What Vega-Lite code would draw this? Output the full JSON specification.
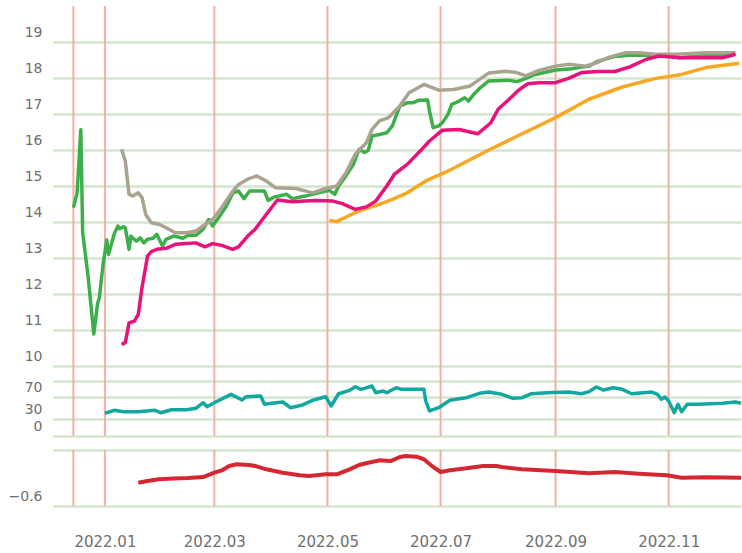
{
  "$schema": "https://vega.github.io/schema/vega-lite/v6.json",
  "padding": {"top": 5, "left": 8, "right": 0, "bottom": 0},
  "background": "white",
  "config": {
    "view": {"stroke": null},
    "axis": {"labelFont": "DejaVu Sans", "labelColor": "#6e6e6e", "domain": false, "ticks": false, "title": null, "gridColor": "#d5e6cf", "gridWidth": 2.5, "labelOverlap": false}
  },
  "datasets": {
    "vl": [{"d": "2021-12-15"}, {"d": "2022-01-01"}, {"d": "2022-03-01"}, {"d": "2022-05-01"}, {"d": "2022-07-01"}, {"d": "2022-09-01"}, {"d": "2022-11-01"}],
    "main": [
      {"d":"2021-12-15","s":"g","v":14.40},{"d":"2021-12-17","s":"g","v":14.81},{"d":"2021-12-19","s":"g","v":16.57},{"d":"2021-12-20","s":"g","v":13.70},{"d":"2021-12-23","s":"g","v":12.45},{"d":"2021-12-26","s":"g","v":10.89},{"d":"2021-12-28","s":"g","v":11.72},{"d":"2021-12-29","s":"g","v":11.90},{"d":"2021-12-31","s":"g","v":12.83},{"d":"2022-01-02","s":"g","v":13.50},{"d":"2022-01-03","s":"g","v":13.10},{"d":"2022-01-06","s":"g","v":13.67},{"d":"2022-01-08","s":"g","v":13.89},{"d":"2022-01-09","s":"g","v":13.81},{"d":"2022-01-11","s":"g","v":13.87},{"d":"2022-01-12","s":"g","v":13.84},{"d":"2022-01-14","s":"g","v":13.24},{"d":"2022-01-15","s":"g","v":13.61},{"d":"2022-01-16","s":"g","v":13.55},{"d":"2022-01-18","s":"g","v":13.47},{"d":"2022-01-20","s":"g","v":13.56},{"d":"2022-01-22","s":"g","v":13.42},{"d":"2022-01-24","s":"g","v":13.52},{"d":"2022-01-27","s":"g","v":13.55},{"d":"2022-01-29","s":"g","v":13.66},{"d":"2022-02-01","s":"g","v":13.33},{"d":"2022-02-03","s":"g","v":13.52},{"d":"2022-02-07","s":"g","v":13.61},{"d":"2022-02-12","s":"g","v":13.55},{"d":"2022-02-15","s":"g","v":13.63},{"d":"2022-02-19","s":"g","v":13.63},{"d":"2022-02-23","s":"g","v":13.80},{"d":"2022-02-26","s":"g","v":14.07},{"d":"2022-02-28","s":"g","v":13.89},{"d":"2022-03-04","s":"g","v":14.17},{"d":"2022-03-07","s":"g","v":14.40},{"d":"2022-03-11","s":"g","v":14.81},{"d":"2022-03-14","s":"g","v":14.86},{"d":"2022-03-17","s":"g","v":14.65},{"d":"2022-03-20","s":"g","v":14.86},{"d":"2022-03-28","s":"g","v":14.86},{"d":"2022-03-30","s":"g","v":14.60},{"d":"2022-04-02","s":"g","v":14.69},{"d":"2022-04-09","s":"g","v":14.77},{"d":"2022-04-12","s":"g","v":14.65},{"d":"2022-04-19","s":"g","v":14.72},{"d":"2022-04-26","s":"g","v":14.81},{"d":"2022-05-02","s":"g","v":14.88},{"d":"2022-05-05","s":"g","v":14.77},{"d":"2022-05-07","s":"g","v":15.00},{"d":"2022-05-11","s":"g","v":15.28},{"d":"2022-05-15","s":"g","v":15.60},{"d":"2022-05-18","s":"g","v":16.02},{"d":"2022-05-21","s":"g","v":15.93},{"d":"2022-05-23","s":"g","v":15.99},{"d":"2022-05-25","s":"g","v":16.39},{"d":"2022-05-29","s":"g","v":16.43},{"d":"2022-06-02","s":"g","v":16.48},{"d":"2022-06-05","s":"g","v":16.67},{"d":"2022-06-09","s":"g","v":17.22},{"d":"2022-06-13","s":"g","v":17.31},{"d":"2022-06-16","s":"g","v":17.31},{"d":"2022-06-19","s":"g","v":17.38},{"d":"2022-06-24","s":"g","v":17.39},{"d":"2022-06-25","s":"g","v":17.08},{"d":"2022-06-27","s":"g","v":16.62},{"d":"2022-06-30","s":"g","v":16.67},{"d":"2022-07-02","s":"g","v":16.76},{"d":"2022-07-05","s":"g","v":16.99},{"d":"2022-07-07","s":"g","v":17.27},{"d":"2022-07-11","s":"g","v":17.36},{"d":"2022-07-14","s":"g","v":17.45},{"d":"2022-07-16","s":"g","v":17.36},{"d":"2022-07-19","s":"g","v":17.55},{"d":"2022-07-22","s":"g","v":17.71},{"d":"2022-07-27","s":"g","v":17.92},{"d":"2022-08-07","s":"g","v":17.94},{"d":"2022-08-11","s":"g","v":17.90},{"d":"2022-08-14","s":"g","v":17.95},{"d":"2022-08-20","s":"g","v":18.08},{"d":"2022-09-01","s":"g","v":18.22},{"d":"2022-09-10","s":"g","v":18.26},{"d":"2022-09-19","s":"g","v":18.33},{"d":"2022-09-24","s":"g","v":18.47},{"d":"2022-10-03","s":"g","v":18.60},{"d":"2022-10-11","s":"g","v":18.63},{"d":"2022-10-20","s":"g","v":18.63},{"d":"2022-10-31","s":"g","v":18.63},{"d":"2022-11-07","s":"g","v":18.56},{"d":"2022-11-16","s":"g","v":18.61},{"d":"2022-11-26","s":"g","v":18.63},{"d":"2022-12-07","s":"g","v":18.66},
      {"d":"2022-01-10","s":"a","v":16.02},{"d":"2022-01-12","s":"a","v":15.69},{"d":"2022-01-14","s":"a","v":14.77},{"d":"2022-01-16","s":"a","v":14.72},{"d":"2022-01-19","s":"a","v":14.81},{"d":"2022-01-21","s":"a","v":14.68},{"d":"2022-01-23","s":"a","v":14.21},{"d":"2022-01-26","s":"a","v":13.98},{"d":"2022-01-30","s":"a","v":13.94},{"d":"2022-02-03","s":"a","v":13.84},{"d":"2022-02-08","s":"a","v":13.70},{"d":"2022-02-14","s":"a","v":13.70},{"d":"2022-02-19","s":"a","v":13.75},{"d":"2022-02-23","s":"a","v":13.89},{"d":"2022-02-28","s":"a","v":14.07},{"d":"2022-03-05","s":"a","v":14.40},{"d":"2022-03-11","s":"a","v":14.86},{"d":"2022-03-14","s":"a","v":15.04},{"d":"2022-03-19","s":"a","v":15.19},{"d":"2022-03-24","s":"a","v":15.28},{"d":"2022-03-29","s":"a","v":15.14},{"d":"2022-04-03","s":"a","v":14.95},{"d":"2022-04-14","s":"a","v":14.93},{"d":"2022-04-23","s":"a","v":14.81},{"d":"2022-04-30","s":"a","v":14.93},{"d":"2022-05-06","s":"a","v":15.00},{"d":"2022-05-11","s":"a","v":15.37},{"d":"2022-05-16","s":"a","v":15.88},{"d":"2022-05-22","s":"a","v":16.20},{"d":"2022-05-25","s":"a","v":16.57},{"d":"2022-05-29","s":"a","v":16.81},{"d":"2022-06-03","s":"a","v":16.90},{"d":"2022-06-09","s":"a","v":17.22},{"d":"2022-06-14","s":"a","v":17.59},{"d":"2022-06-22","s":"a","v":17.82},{"d":"2022-06-30","s":"a","v":17.66},{"d":"2022-07-08","s":"a","v":17.68},{"d":"2022-07-17","s":"a","v":17.78},{"d":"2022-07-22","s":"a","v":17.96},{"d":"2022-07-27","s":"a","v":18.14},{"d":"2022-08-05","s":"a","v":18.19},{"d":"2022-08-11","s":"a","v":18.15},{"d":"2022-08-16","s":"a","v":18.06},{"d":"2022-08-23","s":"a","v":18.21},{"d":"2022-09-01","s":"a","v":18.33},{"d":"2022-09-08","s":"a","v":18.38},{"d":"2022-09-17","s":"a","v":18.33},{"d":"2022-09-23","s":"a","v":18.42},{"d":"2022-09-30","s":"a","v":18.58},{"d":"2022-10-09","s":"a","v":18.70},{"d":"2022-10-16","s":"a","v":18.70},{"d":"2022-10-25","s":"a","v":18.66},{"d":"2022-11-05","s":"a","v":18.66},{"d":"2022-11-21","s":"a","v":18.70},{"d":"2022-12-07","s":"a","v":18.70},
      {"d":"2022-01-10","s":"m","v":10.60},{"d":"2022-01-12","s":"m","v":10.65},{"d":"2022-01-14","s":"m","v":11.20},{"d":"2022-01-17","s":"m","v":11.25},{"d":"2022-01-19","s":"m","v":11.44},{"d":"2022-01-21","s":"m","v":12.18},{"d":"2022-01-24","s":"m","v":13.06},{"d":"2022-01-26","s":"m","v":13.18},{"d":"2022-01-29","s":"m","v":13.24},{"d":"2022-02-03","s":"m","v":13.27},{"d":"2022-02-08","s":"m","v":13.38},{"d":"2022-02-14","s":"m","v":13.40},{"d":"2022-02-19","s":"m","v":13.42},{"d":"2022-02-24","s":"m","v":13.31},{"d":"2022-02-28","s":"m","v":13.40},{"d":"2022-03-05","s":"m","v":13.35},{"d":"2022-03-11","s":"m","v":13.24},{"d":"2022-03-14","s":"m","v":13.31},{"d":"2022-03-19","s":"m","v":13.61},{"d":"2022-03-23","s":"m","v":13.80},{"d":"2022-03-29","s":"m","v":14.21},{"d":"2022-04-04","s":"m","v":14.61},{"d":"2022-04-12","s":"m","v":14.56},{"d":"2022-04-19","s":"m","v":14.58},{"d":"2022-04-25","s":"m","v":14.60},{"d":"2022-05-04","s":"m","v":14.58},{"d":"2022-05-09","s":"m","v":14.51},{"d":"2022-05-16","s":"m","v":14.35},{"d":"2022-05-22","s":"m","v":14.42},{"d":"2022-05-27","s":"m","v":14.58},{"d":"2022-06-02","s":"m","v":15.00},{"d":"2022-06-06","s":"m","v":15.32},{"d":"2022-06-13","s":"m","v":15.60},{"d":"2022-06-20","s":"m","v":15.97},{"d":"2022-06-25","s":"m","v":16.25},{"d":"2022-07-02","s":"m","v":16.55},{"d":"2022-07-11","s":"m","v":16.57},{"d":"2022-07-21","s":"m","v":16.45},{"d":"2022-07-28","s":"m","v":16.75},{"d":"2022-08-01","s":"m","v":17.13},{"d":"2022-08-07","s":"m","v":17.41},{"d":"2022-08-12","s":"m","v":17.66},{"d":"2022-08-17","s":"m","v":17.84},{"d":"2022-08-23","s":"m","v":17.87},{"d":"2022-09-01","s":"m","v":17.87},{"d":"2022-09-08","s":"m","v":17.99},{"d":"2022-09-15","s":"m","v":18.15},{"d":"2022-09-24","s":"m","v":18.18},{"d":"2022-10-03","s":"m","v":18.18},{"d":"2022-10-11","s":"m","v":18.31},{"d":"2022-10-20","s":"m","v":18.52},{"d":"2022-10-27","s":"m","v":18.61},{"d":"2022-11-01","s":"m","v":18.59},{"d":"2022-11-07","s":"m","v":18.56},{"d":"2022-11-21","s":"m","v":18.56},{"d":"2022-11-30","s":"m","v":18.56},{"d":"2022-12-07","s":"m","v":18.66},
      {"d":"2022-05-02","s":"o","v":14.05},{"d":"2022-05-06","s":"o","v":14.01},{"d":"2022-05-11","s":"o","v":14.14},{"d":"2022-05-18","s":"o","v":14.31},{"d":"2022-05-29","s":"o","v":14.49},{"d":"2022-06-05","s":"o","v":14.63},{"d":"2022-06-13","s":"o","v":14.81},{"d":"2022-06-23","s":"o","v":15.14},{"d":"2022-07-04","s":"o","v":15.39},{"d":"2022-07-15","s":"o","v":15.68},{"d":"2022-07-27","s":"o","v":16.00},{"d":"2022-08-14","s":"o","v":16.45},{"d":"2022-09-01","s":"o","v":16.90},{"d":"2022-09-19","s":"o","v":17.41},{"d":"2022-10-07","s":"o","v":17.75},{"d":"2022-10-25","s":"o","v":17.99},{"d":"2022-11-08","s":"o","v":18.10},{"d":"2022-11-21","s":"o","v":18.29},{"d":"2022-12-09","s":"o","v":18.41}
    ],
    "rsi": [
      {"d":"2022-01-01","v":41.2},{"d":"2022-01-06","v":46.6},{"d":"2022-01-11","v":44},{"d":"2022-01-19","v":44},{"d":"2022-01-28","v":46.6},{"d":"2022-01-31","v":42.3},{"d":"2022-02-06","v":47.7},{"d":"2022-02-14","v":47.7},{"d":"2022-02-19","v":50.2},{"d":"2022-02-23","v":60.4},{"d":"2022-02-25","v":53.2},{"d":"2022-03-02","v":62.2},{"d":"2022-03-10","v":75.6},{"d":"2022-03-16","v":65.3},{"d":"2022-03-18","v":71.3},{"d":"2022-03-26","v":72.6},{"d":"2022-03-28","v":57.5},{"d":"2022-04-01","v":59.3},{"d":"2022-04-07","v":61.7},{"d":"2022-04-11","v":51.4},{"d":"2022-04-17","v":55.7},{"d":"2022-04-23","v":64.8},{"d":"2022-04-27","v":68.4},{"d":"2022-04-30","v":71.3},{"d":"2022-05-03","v":54.4},{"d":"2022-05-07","v":76.7},{"d":"2022-05-13","v":82.9},{"d":"2022-05-16","v":89.4},{"d":"2022-05-19","v":84.7},{"d":"2022-05-21","v":86.5},{"d":"2022-05-25","v":90.7},{"d":"2022-05-27","v":78.6},{"d":"2022-05-31","v":81.6},{"d":"2022-06-02","v":78.6},{"d":"2022-06-07","v":87.6},{"d":"2022-06-10","v":84.7},{"d":"2022-06-22","v":84.7},{"d":"2022-06-23","v":63.5},{"d":"2022-06-25","v":45.4},{"d":"2022-06-30","v":51.4},{"d":"2022-07-06","v":64.8},{"d":"2022-07-11","v":67.7},{"d":"2022-07-15","v":69.5},{"d":"2022-07-22","v":77.4},{"d":"2022-07-27","v":79.8},{"d":"2022-08-03","v":75.6},{"d":"2022-08-09","v":68.4},{"d":"2022-08-14","v":69.5},{"d":"2022-08-19","v":76.7},{"d":"2022-08-27","v":78.6},{"d":"2022-09-08","v":79.8},{"d":"2022-09-15","v":76.7},{"d":"2022-09-19","v":80.4},{"d":"2022-09-23","v":88.9},{"d":"2022-09-27","v":83.4},{"d":"2022-10-02","v":87.6},{"d":"2022-10-07","v":84.7},{"d":"2022-10-12","v":76.7},{"d":"2022-10-23","v":79.8},{"d":"2022-10-26","v":75.6},{"d":"2022-10-28","v":66.6},{"d":"2022-10-30","v":70.7},{"d":"2022-11-01","v":63.5},{"d":"2022-11-04","v":42.3},{"d":"2022-11-06","v":57.5},{"d":"2022-11-08","v":44.1},{"d":"2022-11-11","v":57.5},{"d":"2022-11-17","v":57.5},{"d":"2022-11-30","v":59.3},{"d":"2022-12-07","v":61.7},{"d":"2022-12-10","v":59.3}
    ],
    "dev": [
      {"d":"2022-01-19","v":-0.434},{"d":"2022-01-24","v":-0.421},{"d":"2022-01-30","v":-0.409},{"d":"2022-02-07","v":-0.404},{"d":"2022-02-15","v":-0.400},{"d":"2022-02-23","v":-0.393},{"d":"2022-03-01","v":-0.362},{"d":"2022-03-05","v":-0.346},{"d":"2022-03-09","v":-0.314},{"d":"2022-03-13","v":-0.302},{"d":"2022-03-20","v":-0.307},{"d":"2022-03-23","v":-0.314},{"d":"2022-03-29","v":-0.338},{"d":"2022-04-07","v":-0.362},{"d":"2022-04-16","v":-0.381},{"d":"2022-04-21","v":-0.386},{"d":"2022-04-30","v":-0.374},{"d":"2022-05-06","v":-0.374},{"d":"2022-05-13","v":-0.338},{"d":"2022-05-18","v":-0.307},{"d":"2022-05-23","v":-0.291},{"d":"2022-05-29","v":-0.274},{"d":"2022-06-04","v":-0.279},{"d":"2022-06-09","v":-0.250},{"d":"2022-06-12","v":-0.243},{"d":"2022-06-18","v":-0.248},{"d":"2022-06-22","v":-0.266},{"d":"2022-06-27","v":-0.321},{"d":"2022-07-01","v":-0.357},{"d":"2022-07-06","v":-0.345},{"d":"2022-07-15","v":-0.331},{"d":"2022-07-24","v":-0.314},{"d":"2022-07-31","v":-0.314},{"d":"2022-08-03","v":-0.321},{"d":"2022-08-14","v":-0.338},{"d":"2022-09-01","v":-0.350},{"d":"2022-09-19","v":-0.366},{"d":"2022-10-03","v":-0.357},{"d":"2022-10-16","v":-0.369},{"d":"2022-10-31","v":-0.381},{"d":"2022-11-08","v":-0.398},{"d":"2022-11-21","v":-0.395},{"d":"2022-12-10","v":-0.398}
    ]
  },
  "vconcat": [
    {
      "width": 688,
      "height": 360,
      "encoding": {
        "x": {"field": "d", "type": "temporal", "scale": {"type": "utc", "domain": [{"year": 2021, "month": 12, "date": 4, "utc": true}, {"year": 2022, "month": 12, "date": 10, "utc": true}]}, "axis": null},
        "y": {"field": "v", "type": "quantitative", "scale": {"domain": [10, 20], "nice": false, "zero": false}, "axis": {"values": [10, 11, 12, 13, 14, 15, 16, 17, 18, 19], "tickCount": 10, "grid": true, "labelFontSize": 14, "labelOffset": -9.5, "labelPadding": 11}}
      },
      "layer": [
        {
          "data": {"name": "vl"},
          "mark": {"type": "rule", "color": "#efb2a0", "strokeWidth": 2},
          "encoding": {"y": null}
        },
        {
          "data": {"name": "main"},
          "transform": [{"filter": "datum.s == 'g'"}],
          "mark": {"type": "line", "color": "#3daf4a", "strokeWidth": 3.5, "strokeJoin": "round"}
        },
        {
          "data": {"name": "main"},
          "transform": [{"filter": "datum.s == 'a'"}],
          "mark": {"type": "line", "color": "#a9a38f", "strokeWidth": 3.5, "strokeJoin": "round"}
        },
        {
          "data": {"name": "main"},
          "transform": [{"filter": "datum.s == 'o'"}],
          "mark": {"type": "line", "color": "#f7a724", "strokeWidth": 3.5, "strokeJoin": "round"}
        },
        {
          "data": {"name": "main"},
          "transform": [{"filter": "datum.s == 'm'"}],
          "mark": {"type": "line", "color": "#e8127a", "strokeWidth": 3.5, "strokeJoin": "round"}
        }
      ]
    },
    {
      "spacing": 14,
      "bounds": "flush",
      "vconcat": [
        {
          "width": 688,
          "height": 70,
          "layer": [
            {
              "data": {"name": "vl"},
              "mark": {"type": "rule", "color": "#efb2a0", "strokeWidth": 2},
              "encoding": {"x": {"field": "d", "type": "temporal", "scale": {"type": "utc", "domain": [{"year": 2021, "month": 12, "date": 4, "utc": true}, {"year": 2022, "month": 12, "date": 10, "utc": true}]}, "axis": null}}
            },
            {
              "data": {"name": "rsi"},
              "mark": {"type": "line", "color": "#13a89e", "strokeWidth": 3.5, "strokeJoin": "round"},
              "encoding": {
                "x": {"field": "d", "type": "temporal", "axis": null},
                "y": {"field": "v", "type": "quantitative", "scale": {"domain": [0, 127], "nice": false}, "axis": {"values": [0, 30, 70, 100], "labelExpr": "datum.value == 100 ? '' : datum.label", "grid": true, "labelFontSize": 14, "labelOffset": -9.5, "labelPadding": 11}}
              }
            }
          ]
        },
        {
          "width": 688,
          "height": 56,
          "layer": [
            {
              "data": {"name": "vl"},
              "mark": {"type": "rule", "color": "#efb2a0", "strokeWidth": 2},
              "encoding": {"x": {"field": "d", "type": "temporal", "scale": {"type": "utc", "domain": [{"year": 2021, "month": 12, "date": 4, "utc": true}, {"year": 2022, "month": 12, "date": 10, "utc": true}]}, "axis": {"values": [{"year": 2022, "month": 1, "date": 1, "utc": true}, {"year": 2022, "month": 3, "date": 1, "utc": true}, {"year": 2022, "month": 5, "date": 1, "utc": true}, {"year": 2022, "month": 7, "date": 1, "utc": true}, {"year": 2022, "month": 9, "date": 1, "utc": true}, {"year": 2022, "month": 11, "date": 1, "utc": true}], "format": "%Y.%m", "grid": false, "labelFontSize": 15, "labelPadding": 28}}}
            },
            {
              "data": {"name": "dev"},
              "mark": {"type": "line", "color": "#d62631", "strokeWidth": 4, "strokeJoin": "round"},
              "encoding": {
                "x": {"field": "d", "type": "temporal"},
                "y": {"field": "v", "type": "quantitative", "scale": {"domain": [-0.6, -0.2], "nice": false, "zero": false}, "axis": {"values": [-0.6, -0.2], "labelExpr": "datum.value > -0.3 ? '' : datum.label", "grid": true, "labelFontSize": 14, "labelOffset": -9.5, "labelPadding": 11}}
              }
            }
          ]
        }
      ]
    }
  ],
  "spacing": 0,
  "bounds": "flush"
}
